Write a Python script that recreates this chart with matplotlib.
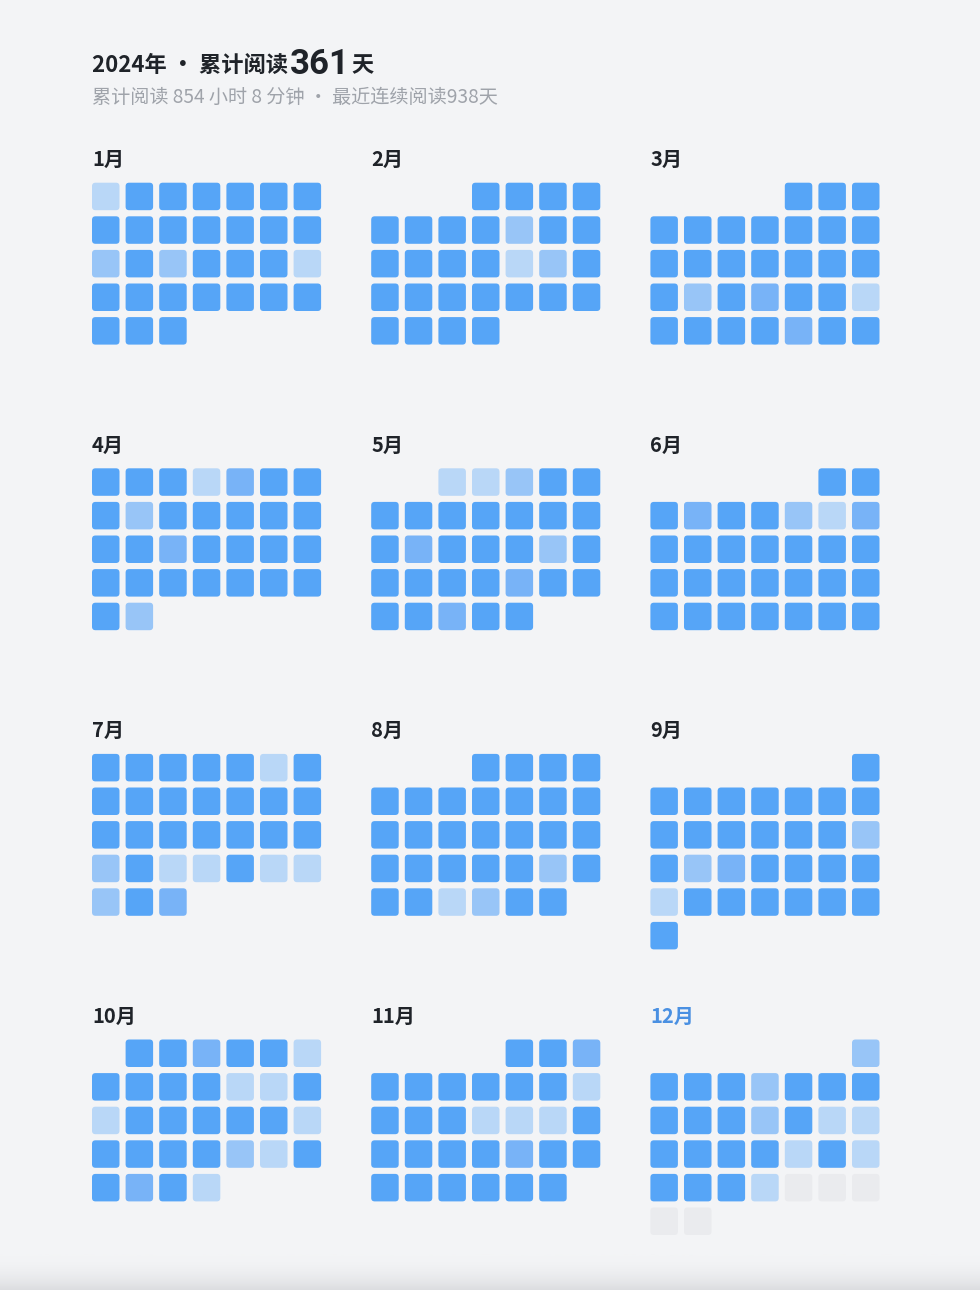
import datetime
import numpy as np
import matplotlib
matplotlib.use('Agg')
import matplotlib.pyplot as plt
from matplotlib.patches import FancyBboxPatch

plt.rcParams['font.family'] = ['Noto Sans CJK SC', 'DejaVu Sans']

# reading level per day (0 = no reading / future, 4 = most)
jan = [1, 4, 4, 4, 4, 4, 4,  4, 4, 4, 4, 4, 4, 4,  2, 4, 2, 4, 4, 4, 1,  4, 4, 4, 4, 4, 4, 4,  4, 4, 4]
feb = [4, 4, 4, 4,  4, 4, 4, 4, 2, 4, 4,  4, 4, 4, 4, 1, 2, 4,  4, 4, 4, 4, 4, 4, 4,  4, 4, 4, 4]
mar = [4, 4, 4,  4, 4, 4, 4, 4, 4, 4,  4, 4, 4, 4, 4, 4, 4,  4, 2, 4, 3, 4, 4, 1,  4, 4, 4, 4, 3, 4, 4]
apr = [4, 4, 4, 1, 3, 4, 4,  4, 2, 4, 4, 4, 4, 4,  4, 4, 3, 4, 4, 4, 4,  4, 4, 4, 4, 4, 4, 4,  4, 2]
may = [1, 1, 2, 4, 4,  4, 4, 4, 4, 4, 4, 4,  4, 3, 4, 4, 4, 2, 4,  4, 4, 4, 4, 3, 4, 4,  4, 4, 3, 4, 4]
jun = [4, 4,  4, 3, 4, 4, 2, 1, 3,  4, 4, 4, 4, 4, 4, 4,  4, 4, 4, 4, 4, 4, 4,  4, 4, 4, 4, 4, 4, 4]
jul = [4, 4, 4, 4, 4, 1, 4,  4, 4, 4, 4, 4, 4, 4,  4, 4, 4, 4, 4, 4, 4,  2, 4, 1, 1, 4, 1, 1,  2, 4, 3]
aug = [4, 4, 4, 4,  4, 4, 4, 4, 4, 4, 4,  4, 4, 4, 4, 4, 4, 4,  4, 4, 4, 4, 4, 2, 4,  4, 4, 1, 2, 4, 4]
sep = [4,  4, 4, 4, 4, 4, 4, 4,  4, 4, 4, 4, 4, 4, 2,  4, 2, 3, 4, 4, 4, 4,  1, 4, 4, 4, 4, 4, 4,  4]
oct_ = [4, 4, 3, 4, 4, 1,  4, 4, 4, 4, 1, 1, 4,  1, 4, 4, 4, 4, 4, 1,  4, 4, 4, 4, 2, 1, 4,  4, 3, 4, 1]
nov = [4, 4, 3,  4, 4, 4, 4, 4, 4, 1,  4, 4, 4, 1, 1, 1, 4,  4, 4, 4, 4, 3, 4, 4,  4, 4, 4, 4, 4, 4]
dec = [2,  4, 4, 4, 2, 4, 4, 4,  4, 4, 4, 2, 4, 1, 1,  4, 4, 4, 4, 1, 4, 1,  4, 4, 4, 1, 0, 0, 0,  0, 0]

months = [jan, feb, mar, apr, may, jun, jul, aug, sep, oct_, nov, dec]
month_labels = ['%d月' % m for m in range(1, 13)]
year = 2024
title_left = '2024年 · 累计阅读'
title_num = '361'
title_right = '天'
subtitle = '累计阅读 854 小时 8 分钟 · 最近连续阅读938天'

level_colors = ['#EAEBEE', '#B9D7F7', '#98C5F7', '#78B3F7', '#56A5F7']
bg = '#F3F4F6'

# layout (pixels)
W, H = 980, 1290
cell = 27.5
pitch = 33.6
panel_x0, panel_dx = 92, 279.2
panel_y0, panel_dy = 182.7, 285.6

fig = plt.figure(figsize=(W / 100, H / 100), dpi=100, facecolor=bg)
ax = fig.add_axes([0, 0, 1, 1])
ax.set_xlim(0, W)
ax.set_ylim(H, 0)
ax.axis('off')
ax.set_facecolor(bg)

# faint bottom shade like the screenshot
grad = np.linspace(0, 1, 60)[:, None] ** 2
ax.imshow(grad, extent=(0, W, H, H - 36), cmap=matplotlib.colors.LinearSegmentedColormap.from_list(
    'g', [bg, '#DCDDE0']), aspect='auto', zorder=0)

for i, vals in enumerate(months):
    px = panel_x0 + (i % 3) * panel_dx
    py = panel_y0 + (i // 3) * panel_dy
    first = datetime.date(year, i + 1, 1).weekday()
    for d, v in enumerate(vals):
        k = d + first
        col, row = k % 7, k // 7
        ax.add_patch(FancyBboxPatch((px + col * pitch, py + row * pitch), cell, cell,
                                    boxstyle='round,pad=0,rounding_size=3.5',
                                    fc=level_colors[v], ec='none', zorder=2))
    ax.text(px, py - 23, month_labels[i], fontsize=14.5, fontweight='bold',
            color='#4A90E2' if i == 11 else '#1F2329', va='center', ha='left')

# title built from pieces
r = fig.canvas.get_renderer()
t1 = ax.text(92, 72, title_left, fontsize=16, fontweight='bold', color='#1F2329', va='baseline')
x = t1.get_window_extent(renderer=r).x1 + 2
t2 = ax.text(x, 74, title_num, fontsize=25, fontweight='bold', color='#1F2329', va='baseline',
             family=['Roboto', 'DejaVu Sans'])
x = t2.get_window_extent(renderer=r).x1 + 2
ax.text(x, 72, title_right, fontsize=16, fontweight='bold', color='#1F2329', va='baseline')
ax.text(92, 103, subtitle, fontsize=13.8, color='#9FA3AA', va='baseline', fontweight='medium')

fig.savefig('out.png', dpi=100, facecolor=bg)
